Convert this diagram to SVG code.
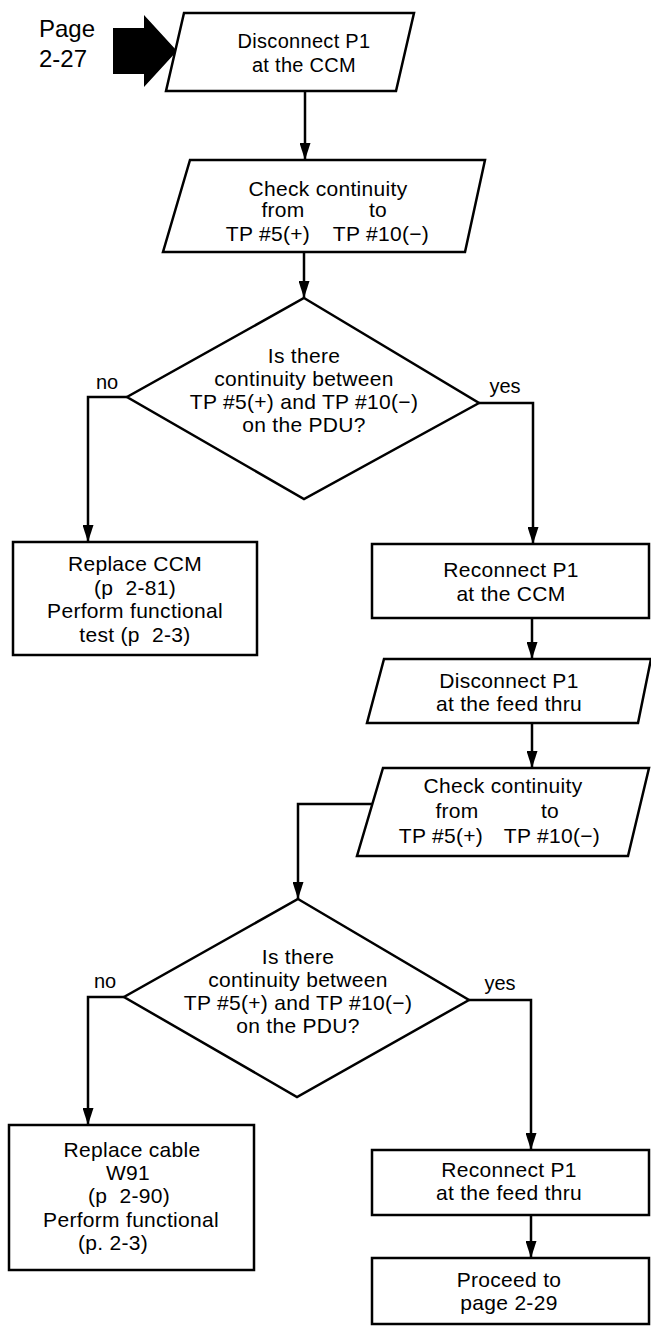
<svg xmlns="http://www.w3.org/2000/svg" width="651" height="1326" viewBox="0 0 651 1326">
<style>
.box{fill:#fff;stroke:#000;stroke-width:2.5;stroke-linejoin:miter}
.c{fill:none;stroke:#000;stroke-width:2.5}
.t{font-family:"Liberation Sans",Arial,sans-serif;font-size:21px;fill:#000;text-anchor:middle;letter-spacing:0.3px;white-space:pre}
.lbl{font-family:"Liberation Sans",Arial,sans-serif;font-size:20px;fill:#000;text-anchor:middle}
.pg{font-family:"Liberation Sans",Arial,sans-serif;font-size:24px;fill:#000}
</style>
<defs>
<marker id="ah" viewBox="0 0 17 11" refX="17" refY="5.5" markerWidth="17" markerHeight="11" markerUnits="userSpaceOnUse" orient="auto">
<path d="M0,0 L17,5.5 L0,11 z" fill="#000"/>
</marker>
</defs>
<rect width="651" height="1326" fill="#fff"/>

<g id="connectors">
<path class="c" d="M305,91 V160" marker-end="url(#ah)"/>
<path class="c" d="M304,252 V298" marker-end="url(#ah)"/>
<path class="c" d="M127,397 H88 V542" marker-end="url(#ah)"/>
<path class="c" d="M479,403 H533 V544" marker-end="url(#ah)"/>
<path class="c" d="M532,618 V659" marker-end="url(#ah)"/>
<path class="c" d="M532,723 V768" marker-end="url(#ah)"/>
<path class="c" d="M372,804 H298 V899" marker-end="url(#ah)"/>
<path class="c" d="M124,997 H88 V1125" marker-end="url(#ah)"/>
<path class="c" d="M469,1000 H531 V1150" marker-end="url(#ah)"/>
<path class="c" d="M531,1215 V1258" marker-end="url(#ah)"/>
<text class="lbl" x="107" y="389">no</text>
<text class="lbl" x="505" y="393">yes</text>
<text class="lbl" x="105" y="988">no</text>
<text class="lbl" x="500" y="990">yes</text>
</g>

<g id="entry">
<text class="pg" x="39" y="37">Page</text>
<text class="pg" x="39" y="67">2-27</text>
<polygon points="113,28 144,28 144,15 177,51 144,87 144,74 113,74" fill="#000"/>
</g>

<g id="n1">
<polygon class="box" points="184,13 414,13 396,91 166,91"/>
<text class="t" x="304" y="48" style="font-size:20px">Disconnect P1</text>
<text class="t" x="304" y="72" style="font-size:20px">at the CCM</text>
</g>

<g id="n2">
<polygon class="box" points="190,160 485,160 465,252 163,252"/>
<text class="t" x="328" y="196">Check continuity</text>
<text class="t" x="283" y="217">from</text>
<text class="t" x="378" y="217">to</text>
<text class="t" x="268" y="241">TP #5(+)</text>
<text class="t" x="381" y="241">TP #10(−)</text>
</g>

<g id="d1">
<polygon class="box" points="304,298 479,403 304,499 127,397"/>
<text class="t" x="304" y="363">Is there</text>
<text class="t" x="304" y="386">continuity between</text>
<text class="t" x="304" y="409">TP #5(+) and TP #10(−)</text>
<text class="t" x="304" y="432">on the PDU?</text>
</g>

<g id="n3">
<rect class="box" x="13" y="542" width="244" height="113"/>
<text class="t" x="135" y="571">Replace CCM</text>
<text class="t" x="135" y="595">(p  2-81)</text>
<text class="t" x="135" y="618">Perform functional</text>
<text class="t" x="135" y="642">test (p  2-3)</text>
</g>

<g id="n4">
<rect class="box" x="372" y="544" width="277" height="74"/>
<text class="t" x="511" y="577">Reconnect P1</text>
<text class="t" x="511" y="601">at the CCM</text>
</g>

<g id="n5">
<polygon class="box" points="384,659 651,659 638,723 367,723"/>
<text class="t" x="509" y="688">Disconnect P1</text>
<text class="t" x="509" y="711">at the feed thru</text>
</g>

<g id="n6">
<polygon class="box" points="383,768 649,768 628,856 357,856"/>
<text class="t" x="503" y="793">Check continuity</text>
<text class="t" x="457" y="818">from</text>
<text class="t" x="550" y="818">to</text>
<text class="t" x="441" y="843">TP #5(+)</text>
<text class="t" x="552" y="843">TP #10(−)</text>
</g>

<g id="d2">
<polygon class="box" points="298,899 469,1000 297,1097 124,997"/>
<text class="t" x="298" y="964">Is there</text>
<text class="t" x="298" y="987">continuity between</text>
<text class="t" x="298" y="1010">TP #5(+) and TP #10(−)</text>
<text class="t" x="298" y="1033">on the PDU?</text>
</g>

<g id="n7">
<rect class="box" x="9" y="1125" width="245" height="145"/>
<text class="t" x="132" y="1157">Replace cable</text>
<text class="t" x="128" y="1180">W91</text>
<text class="t" x="129" y="1203">(p  2-90)</text>
<text class="t" x="131" y="1227">Perform functional</text>
<text class="t" x="113" y="1250">(p. 2-3)</text>
</g>

<g id="n8">
<rect class="box" x="372" y="1150" width="277" height="65"/>
<text class="t" x="509" y="1177">Reconnect P1</text>
<text class="t" x="509" y="1200">at the feed thru</text>
</g>

<g id="n9">
<rect class="box" x="372" y="1258" width="277" height="66"/>
<text class="t" x="509" y="1287">Proceed to</text>
<text class="t" x="509" y="1310">page 2-29</text>
</g>
</svg>
